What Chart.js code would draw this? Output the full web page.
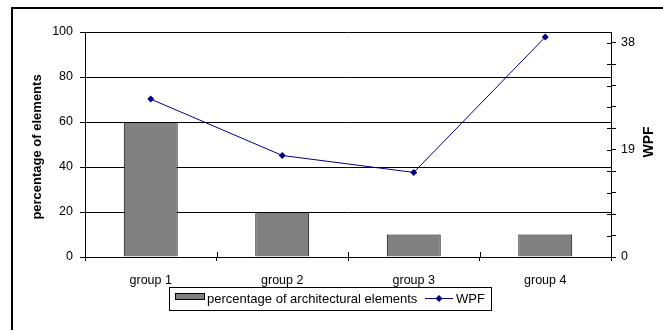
<!DOCTYPE html>
<html>
<head>
<meta charset="utf-8">
<script src="https://cdn.jsdelivr.net/npm/chart.js@4"></script>
<style>
  html, body { margin: 0; padding: 0; background: #ffffff; }
  #wrap { width: 663px; height: 330px; }
</style>
</head>
<body>
<div id="wrap"><canvas id="chart" width="663" height="330"></canvas></div>
<script>
// Categories and series
const groups = ['group 1', 'group 2', 'group 3', 'group 4'];
const elementShare = [60, 20, 10, 10];      // percentage of architectural elements
const wpfValues = [28, 18, 15, 39];         // WPF
const leftTicks = [0, 20, 40, 60, 80, 100];
const rightLabels = [0, 19, 38];
const rightMinorStep = 3.8;

const FONT = "'Liberation Sans', Arial, Helvetica, sans-serif";

// Frame, crossing tick halves, axis titles and the boxed legend
const decorations = {
  id: 'decorations',
  afterDraw(chart) {
    const ctx = chart.ctx;
    const area = chart.chartArea;
    const x = chart.scales.x;
    const y2 = chart.scales.y2;
    ctx.save();

    // outer frame
    ctx.strokeStyle = '#000';
    ctx.lineWidth = 2;
    ctx.strokeRect(12, 8, 720, 400);

    // inner halves of category separators
    ctx.lineWidth = 1;
    ctx.beginPath();
    for (let i = 1; i < groups.length; i++) {
      const px = Math.round((x.getPixelForValue(i - 1) + x.getPixelForValue(i)) / 2) + 0.5;
      ctx.moveTo(px, area.bottom - 5);
      ctx.lineTo(px, area.bottom);
    }
    // inner halves of right-axis ticks
    y2.ticks.forEach(t => {
      const py = Math.round(y2.getPixelForValue(t.value)) + 0.5;
      ctx.moveTo(area.right - 4, py);
      ctx.lineTo(area.right, py);
    });
    ctx.stroke();

    // axis titles
    ctx.fillStyle = '#000';
    ctx.textAlign = 'center';
    ctx.textBaseline = 'middle';
    ctx.save();
    ctx.font = 'bold 13px ' + FONT;
    ctx.translate(37, 147);
    ctx.rotate(-Math.PI / 2);
    ctx.fillText('percentage of elements', 0, 0);
    ctx.restore();
    ctx.save();
    ctx.font = 'bold 14px ' + FONT;
    ctx.translate(649, 142);
    ctx.rotate(-Math.PI / 2);
    ctx.fillText('WPF', 0, 0);
    ctx.restore();

    // legend
    ctx.lineWidth = 1;
    ctx.strokeStyle = '#000';
    ctx.strokeRect(169.5, 287.5, 322, 23);
    ctx.fillStyle = '#808080';
    ctx.fillRect(175.5, 293.5, 29, 6);
    ctx.strokeRect(175.5, 293.5, 29, 6);
    ctx.fillStyle = '#000';
    ctx.font = '13px ' + FONT;
    ctx.textAlign = 'left';
    ctx.textBaseline = 'middle';
    ctx.fillText(chart.data.datasets[0].label, 207, 299);
    ctx.strokeStyle = '#000080';
    ctx.beginPath();
    ctx.moveTo(425, 298.5);
    ctx.lineTo(453, 298.5);
    ctx.stroke();
    ctx.fillStyle = '#000080';
    ctx.beginPath();
    ctx.moveTo(439, 295);
    ctx.lineTo(442.5, 298.5);
    ctx.lineTo(439, 302);
    ctx.lineTo(435.5, 298.5);
    ctx.closePath();
    ctx.fill();
    ctx.fillStyle = '#000';
    ctx.fillText(chart.data.datasets[1].label, 456, 299);

    ctx.restore();
  }
};

new Chart(document.getElementById('chart'), {
  data: {
    labels: groups,
    datasets: [
      {
        type: 'bar',
        label: 'percentage of architectural elements',
        data: elementShare,
        yAxisID: 'y',
        backgroundColor: '#808080',
        borderColor: '#000000',
        borderWidth: 1,
        categoryPercentage: 1,
        barPercentage: 0.41,
        order: 1
      },
      {
        type: 'line',
        label: 'WPF',
        data: wpfValues,
        yAxisID: 'y2',
        borderColor: '#000080',
        backgroundColor: '#000080',
        borderWidth: 1,
        pointStyle: 'rectRot',
        pointRadius: 3.5,
        pointBorderWidth: 0,
        tension: 0,
        order: 0
      }
    ]
  },
  options: {
    responsive: false,
    devicePixelRatio: 1,
    animation: false,
    events: [],
    layout: { padding: { top: 32, left: 0, right: 0, bottom: 0 } },
    plugins: {
      legend: { display: false },
      tooltip: { enabled: false },
      title: { display: false }
    },
    scales: {
      x: {
        type: 'category',
        offset: true,
        afterFit: s => { s.height = 73; },
        grid: { offset: true, drawOnChartArea: false, drawTicks: true, tickLength: 4, color: '#000' },
        border: { display: true, color: '#000', width: 1 },
        ticks: { color: '#000', padding: 12, font: { family: FONT, size: 12.5 }, maxRotation: 0 }
      },
      y: {
        type: 'linear',
        position: 'left',
        min: 0,
        max: 100,
        afterFit: s => { s.width = 85; },
        afterBuildTicks: s => { s.ticks = leftTicks.map(v => ({ value: v })); },
        grid: { color: '#000', drawTicks: true, tickLength: 5 },
        border: { display: true, color: '#000', width: 1 },
        ticks: { color: '#000', padding: 7, font: { family: FONT, size: 12.5 } }
      },
      y2: {
        type: 'linear',
        position: 'right',
        min: 0,
        max: 39.9,
        afterFit: s => { s.width = 52; },
        afterBuildTicks: s => {
          const ticks = [];
          for (let i = 0; i <= 10; i++) ticks.push({ value: i * rightLabels[1] / 5 });
          s.ticks = ticks;
        },
        grid: { drawOnChartArea: false, color: '#000', drawTicks: true, tickLength: 5 },
        border: { display: true, color: '#000', width: 1 },
        ticks: {
          color: '#000',
          padding: 5,
          font: { family: FONT, size: 12.5 },
          callback: v => {
            const hit = rightLabels.find(r => Math.abs(r - v) < rightMinorStep / 10);
            return hit === undefined ? '' : String(hit);
          }
        }
      }
    }
  },
  plugins: [decorations]
});
</script>
</body>
</html>
